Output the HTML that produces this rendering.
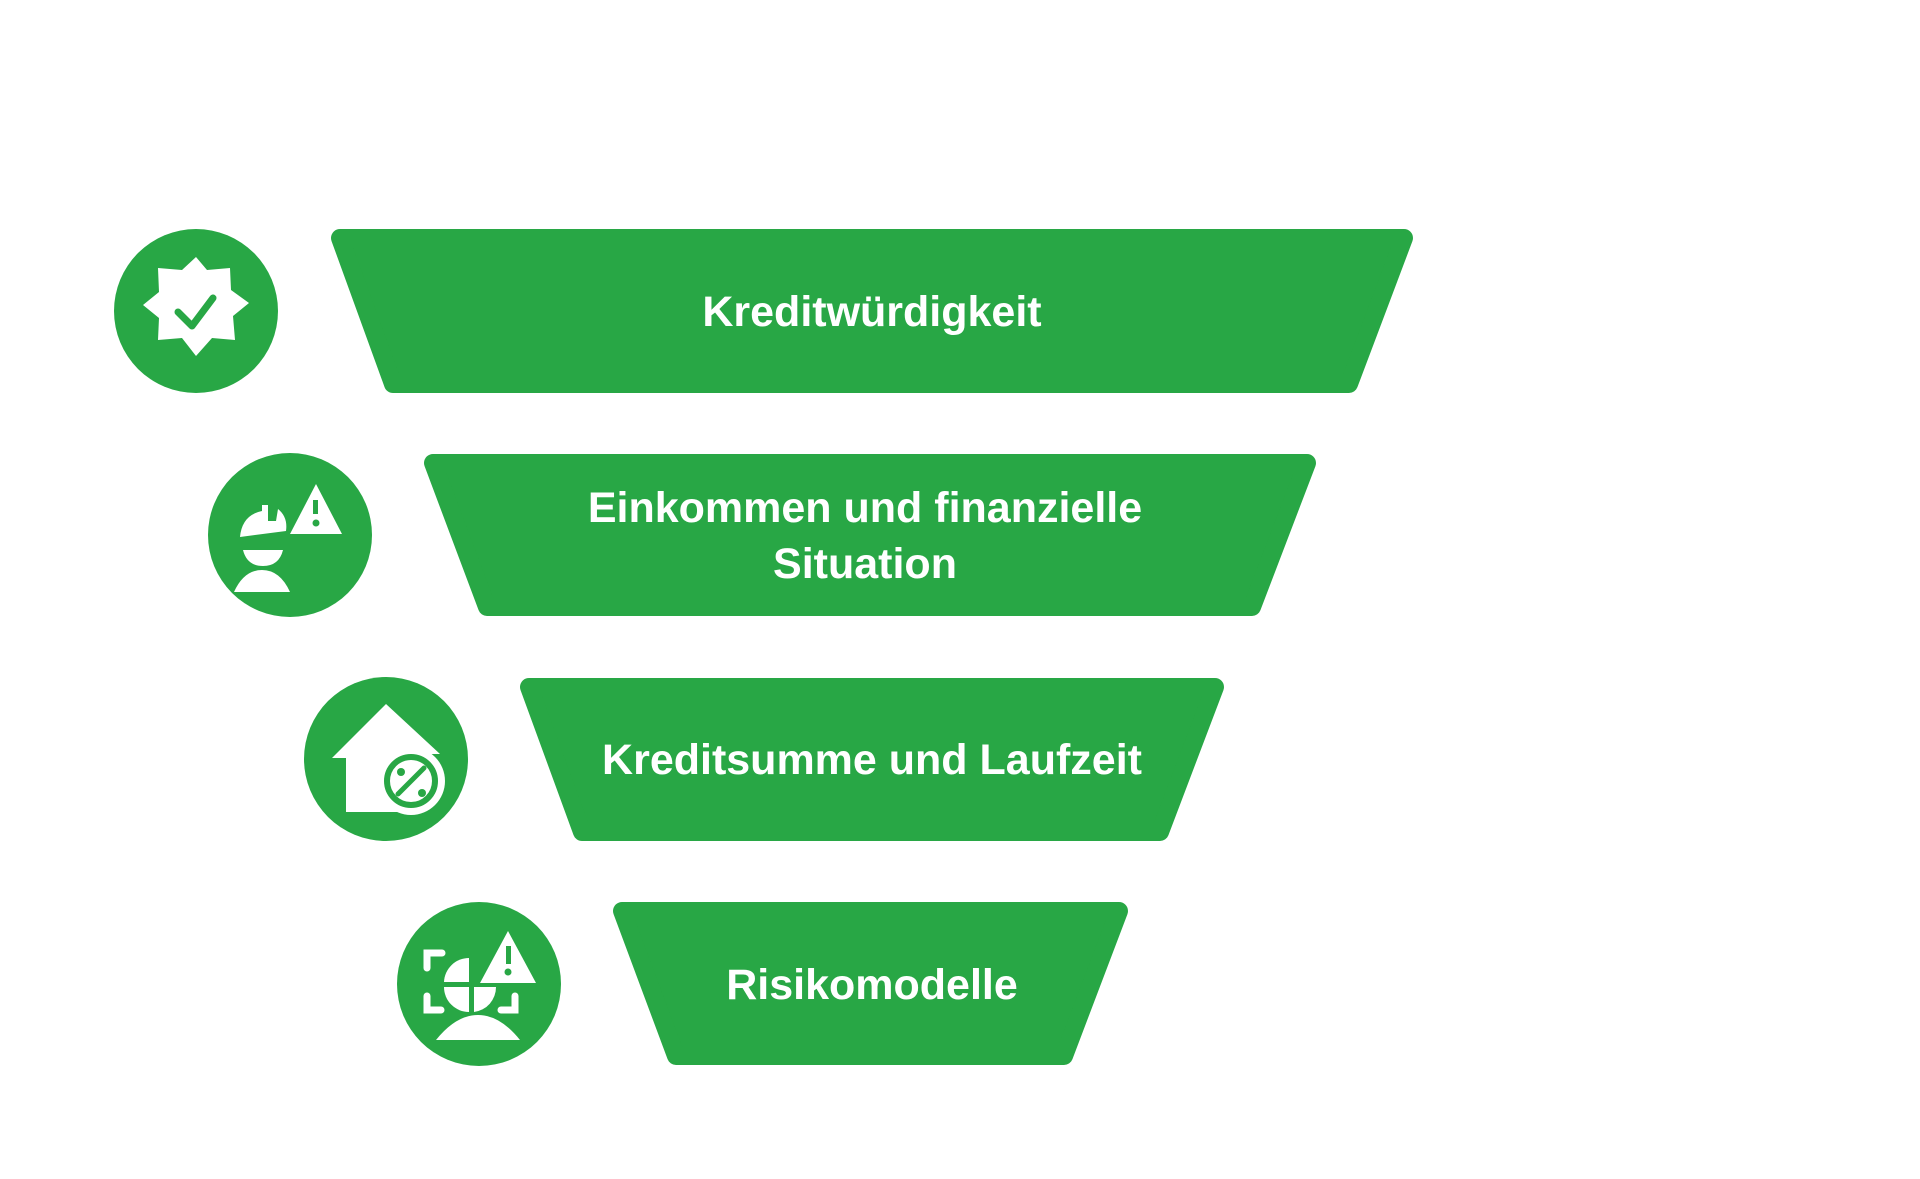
<!DOCTYPE html>
<html><head><meta charset="utf-8"><style>
html,body{margin:0;padding:0;background:#fff;}
svg{display:block}
text{font-family:"Liberation Sans",sans-serif;font-weight:bold;fill:#fff;font-size:43px;text-anchor:middle;letter-spacing:0px}
</style></head><body>
<svg width="1920" height="1179" viewBox="0 0 1920 1179">
<g fill="#28a745" stroke="#28a745" stroke-width="18" stroke-linejoin="round">
<polygon points="340,238 1404,238 1349,384 393,384"/>
<polygon points="433,463 1307,463 1252,607 487,607"/>
<polygon points="529,687 1215,687 1160,832 582,832"/>
<polygon points="622,911 1119,911 1064,1056 676,1056"/>
</g>
<g fill="#28a745">
<circle cx="196" cy="311" r="82"/>
<circle cx="290" cy="535" r="82"/>
<circle cx="386" cy="759" r="82"/>
<circle cx="479" cy="984" r="82"/>
</g>
<text x="872" y="326">Kreditwürdigkeit</text>
<text x="865" y="522">Einkommen und finanzielle</text>
<text x="865" y="578">Situation</text>
<text x="872" y="774">Kreditsumme und Laufzeit</text>
<text x="872" y="999">Risikomodelle</text>
<!-- icon 1 badge -->
<g fill="#fff">
<polygon points="196,257 207,270 230,268 231,290 249,303 233,316 235,340 212,338 196,356 182,338 158,340 159,318 143,305 159,292 158,268 182,270"/>
</g>
<polyline points="178,312 192,326 213,298" fill="none" stroke="#28a745" stroke-width="7" stroke-linecap="round" stroke-linejoin="round"/>
<!-- icon 2 -->
<g fill="#fff">
<polygon points="316,484 342,534 290,534"/>
<path d="M240,537 q2,-22 22,-26 v-6 h6 v16 h8 l2,-12 q10,8 8,22 z"/>
<path d="M243,550 h40 q-4,16 -20,16 q-16,0 -20,-16z"/>
<path d="M234,592 q10,-22 28,-22 q18,0 28,22z"/>
</g>
<rect x="313" y="500" width="5" height="14" fill="#28a745"/><circle cx="316" cy="523" r="3.5" fill="#28a745"/>
<!-- icon 3 house -->
<g fill="#fff">
<polygon points="386,704 440,754 420,754 420,812 346,812 346,758 332,758"/>
<circle cx="411" cy="781" r="34"/>
</g>
<circle cx="411" cy="781" r="24" fill="#fff" stroke="#28a745" stroke-width="6"/>
<line x1="398" y1="794" x2="424" y2="768" stroke="#28a745" stroke-width="5" stroke-linecap="round"/>
<circle cx="401" cy="772" r="4" fill="#28a745"/><circle cx="422" cy="793" r="4" fill="#28a745"/>
<!-- icon 4 -->
<g fill="none" stroke="#fff" stroke-width="7" stroke-linecap="round">
<path d="M427,968 v-15 h15"/><path d="M427,996 v14 h14"/><path d="M515,996 v14 h-14"/>
</g>
<g fill="#fff">
<path d="M444,982 a25,25 0 0 1 25,-24 v24z"/>
<path d="M444,987 a25,25 0 0 0 25,25 v-25z"/>
<path d="M474,987 h22 a25,25 0 0 1 -22,25z"/>
<polygon points="508,931 536,983 480,983"/>
<path d="M436,1040 q20,-25 42,-25 q22,0 42,25z"/>
</g>
<rect x="506" y="946" width="5" height="18" fill="#28a745"/><circle cx="508" cy="972" r="3.5" fill="#28a745"/>
</svg>
</body></html>
